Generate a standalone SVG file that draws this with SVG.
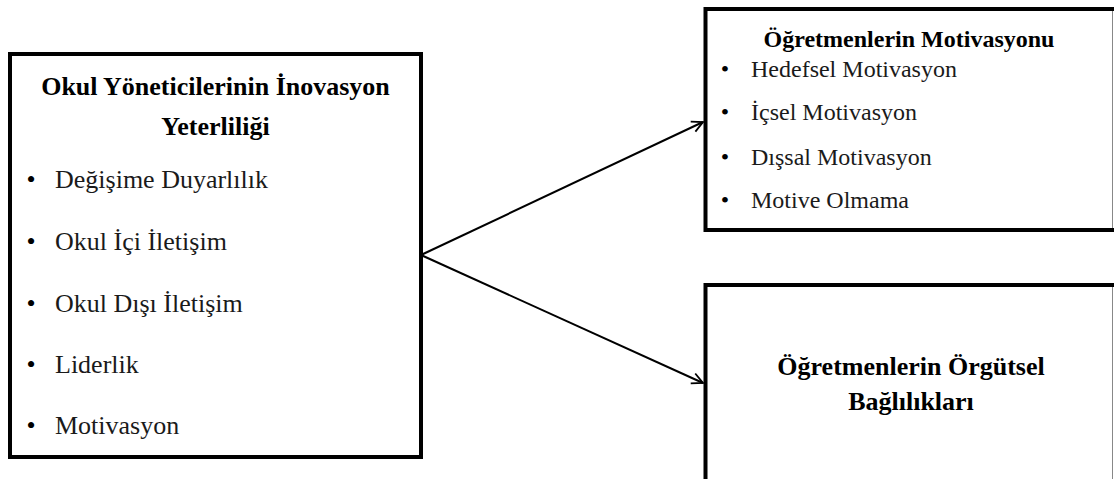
<svg xmlns="http://www.w3.org/2000/svg" width="1114" height="479" viewBox="0 0 1114 479">
<style>
  .box { fill: #ffffff; stroke: #000000; stroke-width: 4; }
  .edge { stroke: #888888; stroke-width: 1; }
  .title { font-family: "Liberation Serif", "Times New Roman", serif; font-weight: bold; fill: #000; text-anchor: middle; }
  .item { font-family: "Liberation Serif", "Times New Roman", serif; fill: #1a1a1a; }
  .bullet { font-family: "Liberation Serif", "Times New Roman", serif; fill: #000; text-anchor: middle; }
  .conn { stroke: #000; stroke-width: 2; fill: none; }
</style>
<defs>
  <marker id="arrow" viewBox="0 0 14 14" refX="12" refY="7" markerWidth="14" markerHeight="14" markerUnits="userSpaceOnUse" orient="auto">
    <path d="M1,1.5 L12,7 L1,12.5" fill="none" stroke="#000" stroke-width="1.8"/>
  </marker>
</defs>
<rect x="0" y="0" width="1114" height="479" fill="#ffffff"/>

<g id="connectors">
  <line class="conn" x1="421" y1="255" x2="703" y2="122" marker-end="url(#arrow)"/>
  <line class="conn" x1="421" y1="255" x2="703" y2="383" marker-end="url(#arrow)"/>
</g>

<g id="node-okul">
  <rect class="box" x="10" y="54" width="411" height="403"/>
  <text class="title" font-size="26" x="215.5" y="95">Okul Yöneticilerinin İnovasyon</text>
  <text class="title" font-size="26" x="215.5" y="135">Yeterliliği</text>
  <g font-size="26">
    <text class="bullet" x="31" y="188">•</text><text class="item" x="55" y="188">Değişime Duyarlılık</text>
    <text class="bullet" x="31" y="250">•</text><text class="item" x="55" y="250">Okul İçi İletişim</text>
    <text class="bullet" x="31" y="312">•</text><text class="item" x="55" y="312">Okul Dışı İletişim</text>
    <text class="bullet" x="31" y="373">•</text><text class="item" x="55" y="373">Liderlik</text>
    <text class="bullet" x="31" y="434">•</text><text class="item" x="55" y="434">Motivasyon</text>
  </g>
</g>

<g id="node-motivasyon">
  <rect class="box" x="705.5" y="9" width="420" height="221"/>
  <line class="edge" x1="1112.5" y1="11" x2="1112.5" y2="228"/>
  <text class="title" font-size="24" x="909" y="47">Öğretmenlerin Motivasyonu</text>
  <g font-size="24">
    <text class="bullet" x="725" y="77">•</text><text class="item" x="751" y="77">Hedefsel Motivasyon</text>
    <text class="bullet" x="725" y="120">•</text><text class="item" x="751" y="120">İçsel Motivasyon</text>
    <text class="bullet" x="725" y="165">•</text><text class="item" x="751" y="165">Dışsal Motivasyon</text>
    <text class="bullet" x="725" y="208">•</text><text class="item" x="751" y="208">Motive Olmama</text>
  </g>
</g>

<g id="node-baglilik">
  <rect class="box" x="705.5" y="285" width="420" height="300"/>
  <line class="edge" x1="1112.5" y1="287" x2="1112.5" y2="479"/>
  <text class="title" font-size="26" x="911" y="375">Öğretmenlerin Örgütsel</text>
  <text class="title" font-size="26" x="911" y="410">Bağlılıkları</text>
</g>
</svg>
